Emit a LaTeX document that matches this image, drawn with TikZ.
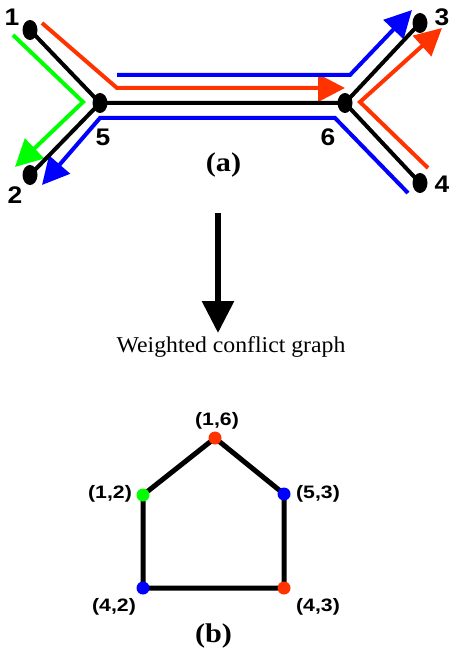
\documentclass[tikz,border=0pt]{standalone}
\usepackage{fontspec}
\setmainfont{Liberation Serif}
\newfontfamily\arial{Liberation Sans}
\usetikzlibrary{shapes.geometric,arrows.meta}
\definecolor{cred}{HTML}{FF3300}
\definecolor{cgreen}{HTML}{00FF00}
\definecolor{cblue}{HTML}{0000FF}
\newcommand\stretchtxt[2]{\scalebox{#1}[1]{#2}}
\tikzset{
  vtx/.style={ellipse,fill=black,minimum width=15pt,minimum height=20pt,inner sep=0pt},
  edge/.style={line width=4pt,black},
  route/.style={line width=4pt,line join=miter},
  bigtip/.style={-{Triangle[length=27pt,width=27pt]}},
  num/.style={font=\arial\bfseries\fontsize{24}{24}\selectfont,inner sep=0pt},
  lab/.style={font=\arial\bfseries\fontsize{18}{18}\selectfont,inner sep=0pt},
  captxt/.style={font=\bfseries\fontsize{27}{27}\selectfont,inner sep=0pt},
  gdot/.style={circle,minimum size=13pt,inner sep=0pt},
  gedge/.style={line width=5pt,black,line cap=round},
}
\begin{document}
\begin{tikzpicture}[x=1pt,y=-1pt]
\useasboundingbox (0,0) rectangle (449,655);
% colored routes (behind)
\coordinate (g1) at (13,35);  \coordinate (g2) at (83,102);  \coordinate (g3) at (15,167);
\coordinate (r1) at (42,23);  \coordinate (r2) at (117,88);  \coordinate (r3) at (345,88);
\coordinate (b1) at (117,75); \coordinate (b2) at (350,75);  \coordinate (b3) at (412,10);
\coordinate (c1) at (408,193);\coordinate (c2) at (335,118); \coordinate (c3) at (100,118); \coordinate (c4) at (42,185);
\coordinate (s1) at (428,168);\coordinate (s2) at (360,102); \coordinate (s3) at (442,28);
\draw[route,cgreen,bigtip] (g1) -- (g2) -- (g3);
\draw[route,cred,bigtip] (r1) -- (r2) -- (r3);
\draw[route,cblue,bigtip] (b1) -- (b2) -- (b3);
\draw[route,cblue,bigtip] (c1) -- (c2) -- (c3) -- (c4);
\draw[route,cred,bigtip] (s1) -- (s2) -- (s3);
% network
\node[vtx] (n1) at (30,30) {};
\node[vtx] (n2) at (30,175) {};
\node[vtx] (n5) at (100,103) {};
\node[vtx] (n6) at (345,103) {};
\node[vtx] (n3) at (420,23) {};
\node[vtx] (n4) at (420,183) {};
\draw[edge] (n1.center) -- (n5.center) -- (n6.center) -- (n3.center);
\draw[edge] (n5.center) -- (n2.center);
\draw[edge] (n6.center) -- (n4.center);
\node[num] (l1) at (12,17) {\stretchtxt{1.1}{1}};
\node[num] (l2) at (15,195) {\stretchtxt{1.1}{2}};
\node[num] (l3) at (442,17) {\stretchtxt{1.1}{3}};
\node[num] (l4) at (442,184) {\stretchtxt{1.1}{4}};
\node[num] (l5) at (103,137) {\stretchtxt{1.1}{5}};
\node[num] (l6) at (328,137) {\stretchtxt{1.1}{6}};
\node[captxt] (capa) at (223.5,165) {\stretchtxt{1.12}{(a)}};
% transformation arrow
\coordinate (ta) at (218,213);
\coordinate (tb) at (218,333);
\draw[line width=6pt,-{Triangle[length=32pt,width=31pt]}] (ta) -- (tb);
\node[font=\fontsize{22.6}{22.6}\selectfont,inner sep=0pt] (wcg) at (231,347) {\stretchtxt{1.05}{Weighted conflict graph}};
% conflict graph
\coordinate (p16) at (215,438);
\coordinate (p12) at (143,495);
\coordinate (p53) at (284,494);
\coordinate (p42) at (143,588);
\coordinate (p43) at (284,588);
\draw[gedge] (p12) -- (p16) -- (p53) -- (p43) -- (p42) -- cycle;
\node[gdot,fill=cred] (v16) at (p16) {};
\node[gdot,fill=cgreen] (v12) at (p12) {};
\node[gdot,fill=cblue] (v53) at (p53) {};
\node[gdot,fill=cblue] (v42) at (p42) {};
\node[gdot,fill=cred] (v43) at (p43) {};
\node[lab] (t16) at (217,421) {\stretchtxt{1.18}{(1,6)}};
\node[lab] (t12) at (110,494) {\stretchtxt{1.18}{(1,2)}};
\node[lab] (t53) at (318,494) {\stretchtxt{1.18}{(5,3)}};
\node[lab] (t42) at (114,607) {\stretchtxt{1.18}{(4,2)}};
\node[lab] (t43) at (318,607) {\stretchtxt{1.18}{(4,3)}};
\node[captxt] (capb) at (213.5,636) {\stretchtxt{1.12}{(b)}};
\end{tikzpicture}
\end{document}
